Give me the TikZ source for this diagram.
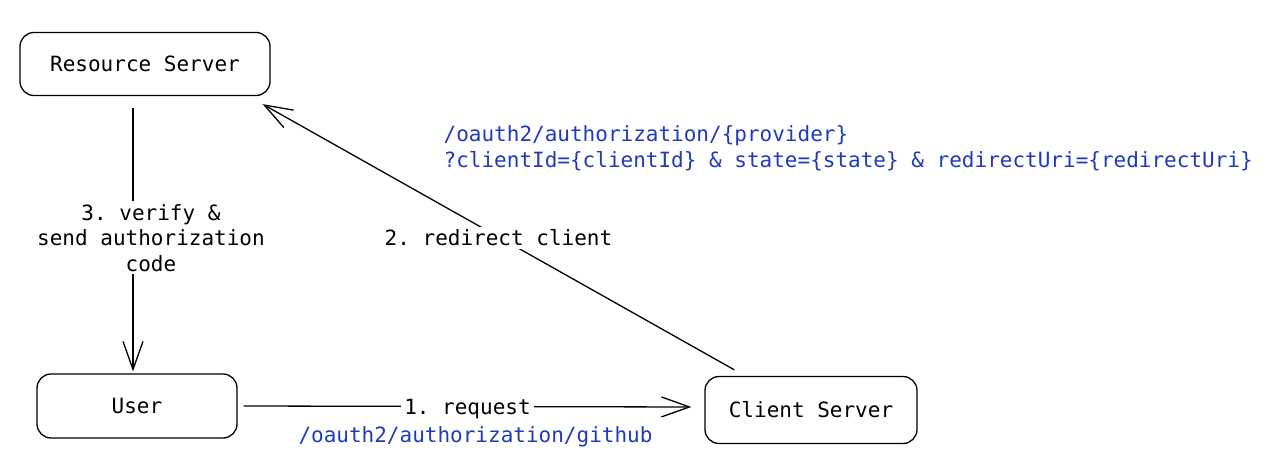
\documentclass[tikz,border=0pt]{standalone}
\usepackage{fontspec}
\setmonofont{DejaVu Sans Mono}
\usepackage{tikz}
\usetikzlibrary{arrows.meta}
\definecolor{urlblue}{RGB}{32,58,190}

\begin{document}
\begin{tikzpicture}[x=1pt, y=-1pt, line width=1.3pt,
        font=\ttfamily\fontsize{21}{25.5}\selectfont,
        box/.style={draw, rounded corners=14pt, minimum height=63pt},
        arr/.style={-{Straight Barb[length=28pt, width=20pt, line width=1.3pt]}},
        lbl/.style={fill=white, inner sep=3pt},
        url/.style={text=urlblue, inner sep=0pt}]
            \useasboundingbox (0,0) rectangle (1280,462);
            \node[box, minimum width=250pt] (RS) at (145,64) {Resource Server};
            \node[box, minimum width=200pt, minimum height=64pt] (U) at (137,406)
            {User};
            \node[box, minimum width=212pt, minimum height=67pt] (CS) at (811,410)
            {Client Server};
            % 1. request
            \draw[arr] ([xshift=6pt]U.east) -- ([xshift=-13pt, yshift=3pt]CS.west)
                node[lbl, midway, yshift=-3pt] (req) {1. request}
                node[url, midway, below=19pt, xshift=8pt] (gh)
                {/oauth2/authorization/github};
            % 2. redirect client
            \draw[arr] ([xshift=30pt, yshift=6pt]CS.north west)
                -- ([xshift=-8pt, yshift=-8pt]RS.south east)
                node[lbl, midway, yshift=-1pt] (redir) {2. redirect client};
            \node[url, anchor=west, align=left] (prov) at (443,148)
            {/oauth2/authorization/\{provider\}\\
             ?clientId=\{clientId\} \& state=\{state\} \& redirectUri=\{redirectUri\}};
            % 3. verify
            \draw[arr] ([xshift=-12pt, yshift=-12pt]RS.south)
                -- ([xshift=-4pt, yshift=2pt]U.north)
                node[lbl, midway, align=center, xshift=18pt, yshift=2pt] (verify)
                {3. verify \&\\send authorization\\code};
        \end{tikzpicture}
\end{document}
